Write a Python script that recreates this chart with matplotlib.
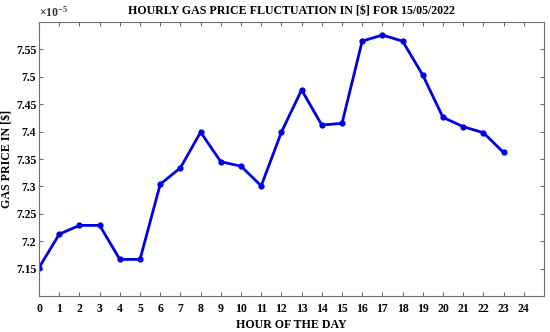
import matplotlib
matplotlib.use("Agg")
import matplotlib.pyplot as plt
import numpy as np

plt.rcParams['font.family'] = ['Liberation Serif', 'DejaVu Serif']
plt.rcParams['font.weight'] = 'bold'

# hourly gas price (x1e-5 $)
hours = list(range(24))
price = [7.152, 7.213, 7.229, 7.229, 7.167, 7.167, 7.304, 7.334, 7.399, 7.345,
         7.337, 7.301, 7.399, 7.476, 7.412, 7.415, 7.565, 7.576, 7.565, 7.503,
         7.426, 7.409, 7.398, 7.362]
xticks = list(range(25))
yticks = [7.15, 7.2, 7.25, 7.3, 7.35, 7.4, 7.45, 7.5, 7.55]

fig, ax = plt.subplots(figsize=(5.5, 3.32), dpi=100)
fig.subplots_adjust(left=0.071, right=0.989, top=0.934, bottom=0.108)

ax.plot(hours, price, '-', color='#0000e6', lw=2, marker='o', ms=3.5)

ax.set_xlim(0, 25)
ax.set_ylim(7.1, 7.6)
ax.set_xticks(xticks)
ax.set_yticks(yticks)
ax.set_yticklabels(['%g' % v for v in yticks])
ax.tick_params(direction='in', top=True, right=True, labelsize=8.5, length=3,
               color='#707070')
ax.tick_params(axis='y', pad=2)
ax.tick_params(axis='x', pad=5)
for s in ax.spines.values():
    s.set_color('#707070')

ax.text(0, 1.01, r'$\mathregular{\times10^{-5}}$', transform=ax.transAxes, fontsize=8.5,
        ha='left', va='bottom', color='#333333')
ax.set_title(r'HOURLY GAS PRICE FLUCTUATION IN [\$] FOR 15/05/2022',
             fontsize=8.6, fontweight='bold', pad=5)
ax.set_xlabel('HOUR OF THE DAY', fontsize=8.6, fontweight='bold', labelpad=3)
ax.set_ylabel(r'GAS PRICE IN [\$]', fontsize=8.6, fontweight='bold', labelpad=2)

fig.savefig('out.png', dpi=100)
